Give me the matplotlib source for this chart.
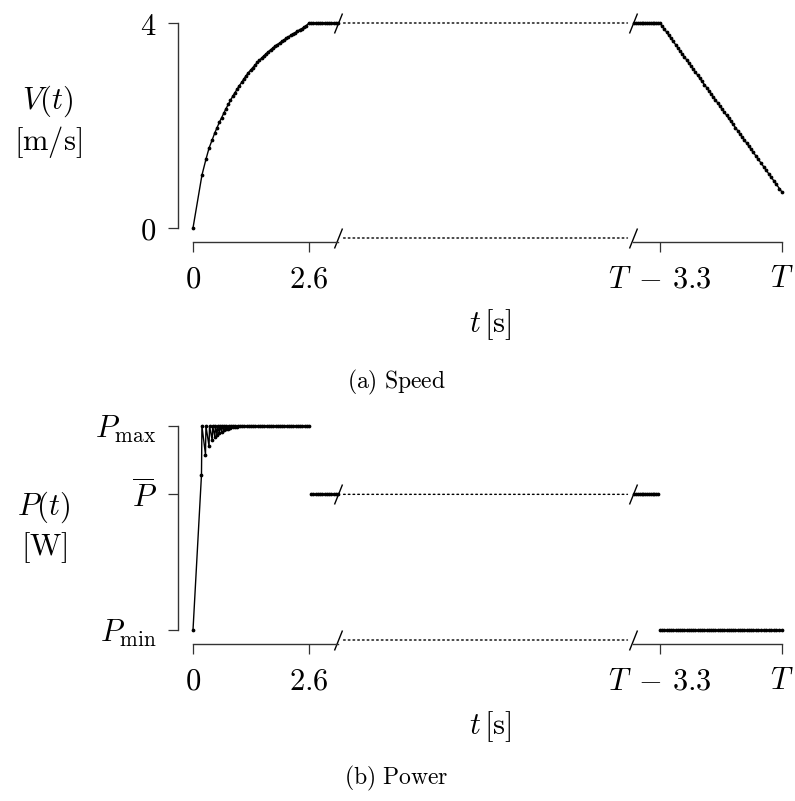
import matplotlib
matplotlib.use('Agg')
import matplotlib.pyplot as plt
from matplotlib.patches import ConnectionPatch
from matplotlib import transforms as mtrans

plt.rcParams['mathtext.fontset'] = 'cm'
plt.rcParams['font.family'] = ['DejaVu Serif']
plt.rcParams['axes.formatter.use_mathtext'] = True

# ---------------- data ----------------
# acceleration phase (time in s from start)
t_accel = [0.00, 0.20, 0.29, 0.36, 0.43, 0.49, 0.54, 0.59, 0.64, 0.69, 0.74, 0.79,
           0.84, 0.89, 0.94, 0.99, 1.04, 1.09, 1.14, 1.19, 1.24, 1.29, 1.34, 1.39,
           1.44, 1.49, 1.54, 1.59, 1.64, 1.69, 1.74, 1.79, 1.84, 1.89, 1.94, 1.99,
           2.04, 2.09, 2.14, 2.19, 2.24, 2.29, 2.34, 2.39, 2.44, 2.49, 2.54, 2.60]
V_accel = [0.00, 1.03, 1.34, 1.56, 1.72, 1.86, 1.96, 2.06, 2.15, 2.24, 2.33, 2.41,
           2.49, 2.57, 2.64, 2.71, 2.78, 2.84, 2.91, 2.97, 3.03, 3.08, 3.13, 3.18,
           3.23, 3.27, 3.32, 3.36, 3.40, 3.44, 3.48, 3.51, 3.55, 3.58, 3.61, 3.64,
           3.67, 3.70, 3.73, 3.76, 3.79, 3.81, 3.84, 3.87, 3.89, 3.92, 3.95, 4.00]

# power during acceleration (normalised: P_min = 0, P_max = 1)
tP_accel = [0.00, 0.19, 0.20, 0.28, 0.29, 0.36, 0.37, 0.43, 0.44, 0.49, 0.50,
            0.54, 0.55, 0.59, 0.60, 0.64, 0.65, 0.69, 0.70, 0.74, 0.75, 0.79,
            0.80, 0.84, 0.85, 0.89, 0.90, 0.94, 0.95, 0.99, 1.00,
            1.05, 1.10, 1.15, 1.20, 1.25, 1.30, 1.35, 1.40, 1.45, 1.50, 1.55,
            1.60, 1.65, 1.70, 1.75, 1.80, 1.85, 1.90, 1.95, 2.00, 2.05, 2.10,
            2.15, 2.20, 2.25, 2.30, 2.35, 2.40, 2.45, 2.50, 2.55, 2.60]
P_accel = [0.00, 0.76, 1.00, 0.86, 1.00, 0.90, 1.00, 0.93, 1.00, 0.945, 1.00,
           0.955, 1.00, 0.965, 1.00, 0.972, 1.00, 0.978, 1.00, 0.983, 1.00, 0.987,
           1.00, 0.990, 1.00, 0.993, 1.00, 0.995, 1.00, 0.997, 1.00,
           1.00, 1.00, 1.00, 1.00, 1.00, 1.00, 1.00, 1.00, 1.00, 1.00, 1.00,
           1.00, 1.00, 1.00, 1.00, 1.00, 1.00, 1.00, 1.00, 1.00, 1.00, 1.00,
           1.00, 1.00, 1.00, 1.00, 1.00, 1.00, 1.00, 1.00, 1.00, 1.00]

# cruise phase shown after the acceleration (time from start)
t_cruise_L = [2.65, 2.70, 2.75, 2.80, 2.85, 2.90, 2.95, 3.00, 3.05, 3.10, 3.15, 3.20, 3.25]
V_cruise_L = [4.0, 4.0, 4.0, 4.0, 4.0, 4.0, 4.0, 4.0, 4.0, 4.0, 4.0, 4.0, 4.0]
P_cruise_L = [0.665, 0.665, 0.665, 0.665, 0.665, 0.665, 0.665, 0.665, 0.665,
              0.665, 0.665, 0.665, 0.665]

# cruise phase before braking (time relative to T)
t_cruise_R = [-4.00, -3.95, -3.90, -3.85, -3.80, -3.75, -3.70, -3.65, -3.60,
              -3.55, -3.50, -3.45, -3.40, -3.35]
V_cruise_R = [4.0, 4.0, 4.0, 4.0, 4.0, 4.0, 4.0, 4.0, 4.0, 4.0, 4.0, 4.0, 4.0, 4.0]
P_cruise_R = [0.665, 0.665, 0.665, 0.665, 0.665, 0.665, 0.665, 0.665, 0.665,
              0.665, 0.665, 0.665, 0.665, 0.665]

# braking phase (time relative to T)
t_brake = [-3.30, -3.24, -3.18, -3.12, -3.06, -3.00, -2.94, -2.88, -2.82, -2.76,
           -2.70, -2.64, -2.58, -2.52, -2.46, -2.40, -2.34, -2.28, -2.22, -2.16,
           -2.10, -2.04, -1.98, -1.92, -1.86, -1.80, -1.74, -1.68, -1.62, -1.56,
           -1.50, -1.44, -1.38, -1.32, -1.26, -1.20, -1.14, -1.08, -1.02, -0.96,
           -0.90, -0.84, -0.78, -0.71, -0.64, -0.57, -0.50, -0.43, -0.36, -0.29,
           -0.22, -0.15, -0.07, 0.00]
V_brake = [4.00, 3.94, 3.88, 3.82, 3.76, 3.70, 3.64, 3.58, 3.52, 3.46,
           3.40, 3.34, 3.28, 3.22, 3.16, 3.10, 3.04, 2.98, 2.92, 2.86,
           2.80, 2.74, 2.68, 2.62, 2.56, 2.50, 2.44, 2.38, 2.32, 2.26,
           2.20, 2.14, 2.08, 2.02, 1.96, 1.90, 1.84, 1.78, 1.72, 1.66,
           1.60, 1.54, 1.48, 1.41, 1.34, 1.27, 1.20, 1.13, 1.06, 0.99,
           0.92, 0.85, 0.77, 0.70]
P_brake = [0.0, 0.0, 0.0, 0.0, 0.0, 0.0, 0.0, 0.0, 0.0, 0.0,
           0.0, 0.0, 0.0, 0.0, 0.0, 0.0, 0.0, 0.0, 0.0, 0.0,
           0.0, 0.0, 0.0, 0.0, 0.0, 0.0, 0.0, 0.0, 0.0, 0.0,
           0.0, 0.0, 0.0, 0.0, 0.0, 0.0, 0.0, 0.0, 0.0, 0.0,
           0.0, 0.0, 0.0, 0.0, 0.0, 0.0, 0.0, 0.0, 0.0, 0.0,
           0.0, 0.0, 0.0, 0.0]

V_ticks = [0, 4]
V_ticklabels = ['$0$', '$4$']
P_ticks = [0.0, 0.665, 1.0]
P_ticklabels = [r'$P_{\mathrm{min}}$', r'$\overline{P}$', r'$P_{\mathrm{max}}$']
xL_ticks = [0, 2.6]
xL_ticklabels = ['$0$', '$2.6$']
xR_ticks = [-3.3, 0]
xR_ticklabels = [r'$T\;-\,3.3$', '$T$']
xL_lim = (0, 3.25)
xR_lim = (-4.03, 0)

# ---------------- figure ----------------
W, H = 795, 801
fig = plt.figure(figsize=(W / 100, H / 100), dpi=100)
SPINE = '#333333'
FS = 22


def px_axes(x0, x1, ytop, ybot):
    return fig.add_axes([x0 / W, (H - ybot) / H, (x1 - x0) / W, (ybot - ytop) / H])


def style(ax, has_left):
    ax.patch.set_visible(False)
    for s in ['top', 'right']:
        ax.spines[s].set_visible(False)
    ax.spines['bottom'].set_position(('outward', 10))
    ax.spines['bottom'].set_color(SPINE)
    ax.spines['bottom'].set_linewidth(1.0)
    ax.tick_params(axis='both', direction='out', length=7.2, width=0.9,
                   color=SPINE, labelsize=FS, pad=8)
    if has_left:
        ax.spines['left'].set_position(('outward', 11))
        ax.spines['left'].set_color(SPINE)
        ax.spines['left'].set_linewidth(1.0)
    else:
        ax.spines['left'].set_visible(False)
        ax.tick_params(axis='y', left=False, labelleft=False)


def slash(ax, xa, y=None):
    if y is None:
        tr = mtrans.offset_copy(ax.transAxes, fig=fig, x=0, y=-10, units='dots')
        yy = 0
    else:
        tr = mtrans.blended_transform_factory(ax.transAxes, ax.transData)
        yy = y
    ax.plot([xa], [yy], transform=tr, marker=[(-0.4, -1), (0.4, 1)], ms=14.4,
            mew=1.0, mec='k', ls='none', clip_on=False)


def dotted(axA, axB, y=None):
    if y is None:
        trA = mtrans.offset_copy(axA.transAxes, fig=fig, x=0, y=-10, units='dots')
        trB = mtrans.offset_copy(axB.transAxes, fig=fig, x=0, y=-10, units='dots')
        yy = 0
    else:
        trA = mtrans.blended_transform_factory(axA.transAxes, axA.transData)
        trB = mtrans.blended_transform_factory(axB.transAxes, axB.transData)
        yy = y
    cp = ConnectionPatch(xyA=(1, yy), coordsA=trA, xyB=(0, yy), coordsB=trB,
                         arrowstyle='-', lw=1.0, ls=(0, (1.2, 2.2)), color='k',
                         shrinkA=4, shrinkB=4)
    fig.add_artist(cp)


line_kw = dict(color='k', lw=1.0, marker='o', ms=1.7, clip_on=False)

panels = []
for (ytop, ybot) in [(23, 228), (426, 630)]:
    axL = px_axes(193, 338, ytop, ybot)
    axR = px_axes(633, 782, ytop, ybot)
    style(axL, True)
    style(axR, False)
    axL.set_xlim(*xL_lim)
    axR.set_xlim(*xR_lim)
    axL.set_xticks(xL_ticks)
    axL.set_xticklabels(xL_ticklabels)
    axR.set_xticks(xR_ticks)
    axR.set_xticklabels(xR_ticklabels)
    panels.append((axL, axR))

# speed panel
(aL, aR) = panels[0]
aL.set_ylim(0, 4)
aR.set_ylim(0, 4)
aL.set_yticks(V_ticks)
aL.set_yticklabels(V_ticklabels)
aL.plot(t_accel + t_cruise_L, V_accel + V_cruise_L, **line_kw)
aR.plot(t_cruise_R + t_brake, V_cruise_R + V_brake, **line_kw)
for a, xa in [(aL, 1), (aR, 0)]:
    slash(a, xa, 4)
    slash(a, xa)
dotted(aL, aR, 4)
dotted(aL, aR)

# power panel
(bL, bR) = panels[1]
bL.set_ylim(0, 1)
bR.set_ylim(0, 1)
bL.set_yticks(P_ticks)
bL.set_yticklabels(P_ticklabels)
bL.plot(tP_accel, P_accel, **line_kw)
bL.plot(t_cruise_L, P_cruise_L, **line_kw)
bR.plot(t_cruise_R, P_cruise_R, **line_kw)
bR.plot(t_brake, P_brake, **line_kw)
for a, xa in [(bL, 1), (bR, 0)]:
    slash(a, xa, P_cruise_L[0])
    slash(a, xa)
dotted(bL, bR, P_cruise_L[0])
dotted(bL, bR)

# labels
fig.text(48 / W, 1 - 122 / H, '$V(t)$\n$[\\mathrm{m/s}]$', ha='center', va='center',
         fontsize=FS, multialignment='center', linespacing=1.2)
fig.text(44 / W, 1 - 527 / H, '$P(t)$\n$[\\mathrm{W}]$', ha='center', va='center',
         fontsize=FS, multialignment='center', linespacing=1.2)
for yc in [325, 727]:
    fig.text(490 / W, 1 - yc / H, r'$t\,[\mathrm{s}]$', ha='center', va='center', fontsize=FS)
fig.text(396 / W, 1 - 382 / H, r'$\mathrm{(a)\ Speed}$', ha='center', va='center', fontsize=17)
fig.text(396 / W, 1 - 778 / H, r'$\mathrm{(b)\ Power}$', ha='center', va='center', fontsize=17)

fig.savefig('out.png', dpi=100)
